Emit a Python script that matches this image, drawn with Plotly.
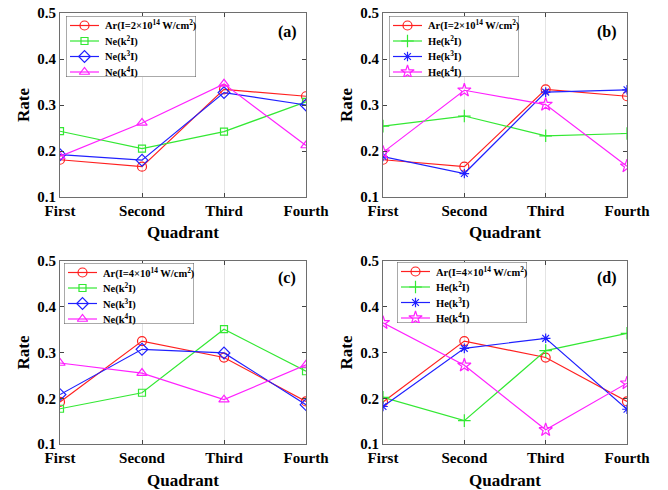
import plotly.graph_objects as go

categories = ["First", "Second", "Third", "Fourth"]
y_ticks = [0.1, 0.2, 0.3, 0.4, 0.5]

# Panel (a): Ar(2e14) vs Ne
a_ar = [0.181, 0.166, 0.334, 0.319]
a_ne2 = [0.243, 0.205, 0.242, 0.307]
a_ne3 = [0.192, 0.180, 0.327, 0.300]
a_ne4 = [0.188, 0.261, 0.346, 0.212]

# Panel (b): Ar(2e14) vs He
b_ar = [0.181, 0.166, 0.334, 0.319]
b_he2 = [0.254, 0.276, 0.233, 0.238]
b_he3 = [0.188, 0.151, 0.328, 0.333]
b_he4 = [0.197, 0.332, 0.301, 0.167]

# Panel (c): Ar(4e14) vs Ne
c_ar = [0.192, 0.325, 0.289, 0.193]
c_ne2 = [0.177, 0.212, 0.351, 0.259]
c_ne3 = [0.208, 0.307, 0.299, 0.186]
c_ne4 = [0.277, 0.255, 0.197, 0.273]

# Panel (d): Ar(4e14) vs He
d_ar = [0.192, 0.325, 0.289, 0.193]
d_he2 = [0.202, 0.151, 0.304, 0.342]
d_he3 = [0.182, 0.309, 0.331, 0.176]
d_he4 = [0.365, 0.272, 0.131, 0.233]

FONT = "Times New Roman, Liberation Serif, serif"
RED, GREEN, BLUE, MAG = "#ff2020", "#33e833", "#2020ff", "#ff20ff"
colors = [RED, GREEN, BLUE, MAG]

W, H = 668, 490
def px_x(x):
    return x / W
def px_y(y):
    return 1 - y / H

panels = [
    dict(label="(a)", xd=(60, 306), yd=(13, 197), leg=(66, 16), lab=(287, 32),
         ar="Ar(I=2×10<sup>14</sup> W/cm<sup>2</sup>)", el="Ne",
         data=[a_ar, a_ne2, a_ne3, a_ne4],
         sym=["circle-open", "square-open", "diamond-open", "triangle-up-open"]),
    dict(label="(b)", xd=(383, 627), yd=(13, 197), leg=(389, 16), lab=(607, 32),
         ar="Ar(I=2×10<sup>14</sup> W/cm<sup>2</sup>)", el="He",
         data=[b_ar, b_he2, b_he3, b_he4],
         sym=["circle-open", "cross-thin-open", "asterisk-open", "star-open"]),
    dict(label="(c)", xd=(60, 306), yd=(261, 444), leg=(64, 263), lab=(287, 278),
         ar="Ar(I=4×10<sup>14</sup> W/cm<sup>2</sup>)", el="Ne",
         data=[c_ar, c_ne2, c_ne3, c_ne4],
         sym=["circle-open", "square-open", "diamond-open", "triangle-up-open"]),
    dict(label="(d)", xd=(383, 627), yd=(261, 444), leg=(397, 262), lab=(607, 278),
         ar="Ar(I=4×10<sup>14</sup> W/cm<sup>2</sup>)", el="He",
         data=[d_ar, d_he2, d_he3, d_he4],
         sym=["circle-open", "cross-thin-open", "asterisk-open", "star-open"]),
]

LEG_W, LEG_H = 130, 61
ROW0, ROW_STEP = 9.5, 15.5
LINE_X0, MARK_X, LINE_X1, TEXT_X = 4, 18.5, 33, 37

fig = go.Figure()
layout = {}
annotations = []
shapes = []

def msize(sym):
    return {"circle-open": 9, "square-open": 7, "diamond-open": 9, "triangle-up-open": 9,
            "cross-thin-open": 9, "asterisk-open": 8, "star-open": 10}.get(sym, 9)

for i, p in enumerate(panels):
    n = i + 1
    xa = "x" if n == 1 else f"x{n}"
    ya = "y" if n == 1 else f"y{n}"
    names = [p["ar"], f"{p['el']}(k<sup>2</sup>I)", f"{p['el']}(k<sup>3</sup>I)", f"{p['el']}(k<sup>4</sup>I)"]
    for k in range(4):
        fig.add_trace(go.Scatter(
            x=categories, y=p["data"][k], mode="lines+markers", name=names[k],
            xaxis=xa, yaxis=ya, showlegend=False,
            line=dict(color=colors[k], width=1.2),
            marker=dict(symbol=p["sym"][k], size=msize(p["sym"][k]),
                        color=colors[k], line=dict(width=1.2, color=colors[k])),
        ))
    axkey = "xaxis" if n == 1 else f"xaxis{n}"
    aykey = "yaxis" if n == 1 else f"yaxis{n}"
    layout[axkey] = dict(
        domain=[px_x(p["xd"][0]), px_x(p["xd"][1])], anchor=ya,
        type="category", categoryorder="array", categoryarray=categories,
        range=[0, 3], showgrid=True, gridcolor="#e4e4e4", gridwidth=1,
        showline=True, linecolor="#6e6e6e", linewidth=1, mirror="ticks",
        ticks="inside", ticklen=4, tickcolor="#444",
        tickfont=dict(family=FONT, size=15, color="black", weight="bold"),
        zeroline=False,
    )
    layout[aykey] = dict(
        domain=[px_y(p["yd"][1]), px_y(p["yd"][0])], anchor=xa,
        range=[0.1, 0.5], tickvals=y_ticks, ticktext=[f"{v:.1f}" for v in y_ticks],
        showgrid=False, showline=True, linecolor="#6e6e6e", linewidth=1, mirror="ticks",
        ticks="inside", ticklen=4, tickcolor="#444",
        tickfont=dict(family=FONT, size=15, color="black", weight="bold"),
        zeroline=False,
    )

    # manual legend: hidden overlay axes spanning the legend box, in pixel units
    m = n + 4
    lxa, lya = f"x{m}", f"y{m}"
    lx0, ly0 = p["leg"]
    layout[f"xaxis{m}"] = dict(domain=[px_x(lx0), px_x(lx0 + LEG_W)], range=[0, LEG_W],
                               visible=False, anchor=lya, fixedrange=True)
    layout[f"yaxis{m}"] = dict(domain=[px_y(ly0 + LEG_H), px_y(ly0)], range=[LEG_H, 0],
                               visible=False, anchor=lxa, fixedrange=True)
    shapes.append(dict(type="rect", xref=lxa, yref=lya, x0=0, x1=LEG_W, y0=0, y1=LEG_H,
                       line=dict(color="#555", width=1), fillcolor="white", layer="below"))
    for k in range(4):
        ry = ROW0 + ROW_STEP * k
        fig.add_trace(go.Scatter(
            x=[LINE_X0, MARK_X, LINE_X1], y=[ry, ry, ry], mode="lines+markers",
            xaxis=lxa, yaxis=lya, showlegend=False, hoverinfo="skip",
            line=dict(color=colors[k], width=1.2),
            marker=dict(symbol=p["sym"][k], size=msize(p["sym"][k]), opacity=[0, 1, 0],
                        color=colors[k], line=dict(width=1.2, color=colors[k])),
        ))
        annotations.append(dict(
            x=TEXT_X, y=ry, xref=lxa, yref=lya, text=names[k], showarrow=False,
            xanchor="left", yanchor="middle",
            font=dict(family=FONT, size=10.5, color="black", weight="bold"),
        ))

    annotations.append(dict(
        x=px_x(p["lab"][0]), y=px_y(p["lab"][1]), xref="paper", yref="paper",
        text=p["label"], showarrow=False, xanchor="center", yanchor="middle",
        font=dict(family=FONT, size=16, color="black", weight="bold"),
    ))
    ymid = (p["yd"][0] + p["yd"][1]) / 2
    annotations.append(dict(
        x=px_x(p["xd"][0] - 37), y=px_y(ymid), xref="paper", yref="paper",
        text="Rate", textangle=-90, showarrow=False, xanchor="center", yanchor="middle",
        font=dict(family=FONT, size=17, color="black", weight="bold"),
    ))
    annotations.append(dict(
        x=px_x((p["xd"][0] + p["xd"][1]) / 2), y=px_y(p["yd"][1] + 36), xref="paper", yref="paper",
        text="Quadrant", showarrow=False, xanchor="center", yanchor="middle",
        font=dict(family=FONT, size=17, color="black", weight="bold"),
    ))

fig.update_layout(
    width=W, height=H, margin=dict(l=0, r=0, t=0, b=0, pad=0, autoexpand=False),
    paper_bgcolor="white", plot_bgcolor="rgba(0,0,0,0)", showlegend=False,
    annotations=annotations, shapes=shapes, **layout,
)

fig.write_html("out.html", config={"displayModeBar": False},
               post_script="document.body.style.margin='0';")
